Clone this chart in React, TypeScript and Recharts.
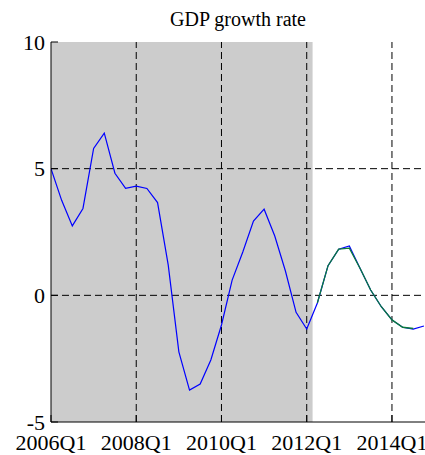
import React from 'react';
import { LineChart, Line, XAxis, YAxis, ReferenceArea, ReferenceLine } from 'recharts';

// Quarterly GDP growth rate (%), 2006Q1 .. 2014Q4
const years = [2006, 2007, 2008, 2009, 2010, 2011, 2012, 2013, 2014];
const quarters = years.flatMap((y) => [1, 2, 3, 4].map((q) => `${y}Q${q}`));

const gdpGrowth = [
  5.0, 3.75, 2.74, 3.43, 5.8, 6.4, 4.82, 4.22, 4.31, 4.22, 3.66, 1.2,
  -2.23, -3.74, -3.5, -2.55, -1.17, 0.6, 1.71, 2.93, 3.4, 2.34, 0.96, -0.67,
  -1.33, -0.3, 1.17, 1.82, 1.95, 1.07, 0.21, -0.45, -0.97, -1.26, -1.33, -1.21,
];

// Projection path, starting at 2012Q2
const forecastStart = 25;
const forecast = [-0.3, 1.17, 1.82, 1.86, 1.07, 0.21, -0.45, -0.97, -1.26, -1.31];

// Shaded estimation sample (quarter index range)
const shadeStart = 0;
const shadeEnd = 24.55;

const xTickIdx = [0, 8, 16, 24, 32];
const xTickLabels = ['2006Q1', '2008Q1', '2010Q1', '2012Q1', '2014Q1'];
const yTicks = [-5, 0, 5, 10];
const yGrid = [0, 5];
const xGrid = [8, 16, 24, 32];

const data = quarters.map((label, i) => ({
  idx: i,
  label,
  gdp: gdpGrowth[i],
  forecast:
    i >= forecastStart && i - forecastStart < forecast.length
      ? forecast[i - forecastStart]
      : null,
}));

const FONT = '"Liberation Serif", "Times New Roman", serif';
const W = 425;
const H = 455;
const LEFT = 51;
const TOP = 42;
const BOTTOM_AXIS = 33;
const Y_TICK_MARGIN = 6;
const X_TICK_MARGIN = 12;
const TICK_LEN = 7;

const YTick = (props: any) => {
  const { x, y, payload } = props;
  const axisX = x + Y_TICK_MARGIN;
  return (
    <g>
      <line x1={axisX} x2={axisX + TICK_LEN} y1={y} y2={y} stroke="#000" strokeWidth={1} />
      <text
        x={x}
        y={y}
        textAnchor="end"
        dominantBaseline="central"
        fontSize={22}
        fontFamily={FONT}
        fill="#000"
      >
        {payload.value}
      </text>
    </g>
  );
};

const XTick = (props: any) => {
  const { x, y, payload } = props;
  const axisY = y - X_TICK_MARGIN;
  const pos = xTickIdx.indexOf(payload.value);
  return (
    <g>
      <line x1={x} x2={x} y1={axisY} y2={axisY - TICK_LEN} stroke="#000" strokeWidth={1} />
      <text
        x={x}
        y={y}
        dy="0.71em"
        textAnchor="middle"
        fontSize={22}
        fontFamily={FONT}
        fill="#000"
      >
        {pos >= 0 ? xTickLabels[pos] : ''}
      </text>
    </g>
  );
};

export default function App() {
  return (
    <div style={{ position: 'absolute', left: 0, top: 0, width: W, height: H, background: '#fff' }}>
      <div
        style={{
          position: 'absolute',
          left: LEFT,
          width: W - LEFT,
          top: 9,
          textAlign: 'center',
          fontFamily: FONT,
          fontSize: 20,
          lineHeight: '20px',
          color: '#000',
        }}
      >
        GDP growth rate
      </div>
      <LineChart
        width={W}
        height={H}
        data={data}
        margin={{ top: TOP, right: 0, left: 0, bottom: 0 }}
      >
        <XAxis
          dataKey="idx"
          type="number"
          domain={[0, 35.1]}
          allowDataOverflow
          ticks={xTickIdx}
          interval={0}
          tick={<XTick />}
          tickLine={false}
          tickSize={0}
          tickMargin={X_TICK_MARGIN}
          height={BOTTOM_AXIS}
          axisLine={{ stroke: '#000', strokeWidth: 1 }}
        />
        <XAxis
          xAxisId="top"
          dataKey="idx"
          type="number"
          domain={[0, 35.1]}
          orientation="top"
          tick={false}
          tickLine={false}
          height={0}
          axisLine={{ stroke: '#000', strokeWidth: 1 }}
        />
        <YAxis
          type="number"
          domain={[-5, 10]}
          ticks={yTicks}
          interval={0}
          tick={<YTick />}
          tickLine={false}
          tickSize={0}
          tickMargin={Y_TICK_MARGIN}
          width={LEFT}
          axisLine={{ stroke: '#000', strokeWidth: 1 }}
        />
        <ReferenceArea
          x1={shadeStart}
          x2={shadeEnd}
          y1={-5}
          y2={10}
          fill="#cccccc"
          fillOpacity={1}
          stroke="none"
        />
        {yGrid.map((v) => (
          <ReferenceLine key={`y${v}`} y={v} stroke="#000" strokeDasharray="7 4" strokeWidth={1} />
        ))}
        {xGrid.map((v) => (
          <ReferenceLine key={`x${v}`} x={v} stroke="#000" strokeDasharray="7 4" strokeWidth={1} />
        ))}
        <Line
          type="linear"
          dataKey="gdp"
          stroke="#0000ff"
          strokeWidth={1.2}
          dot={false}
          isAnimationActive={false}
        />
        <Line
          type="linear"
          dataKey="forecast"
          stroke="#0b7a3b"
          strokeWidth={1.3}
          dot={false}
          connectNulls={false}
          isAnimationActive={false}
        />
      </LineChart>
    </div>
  );
}
